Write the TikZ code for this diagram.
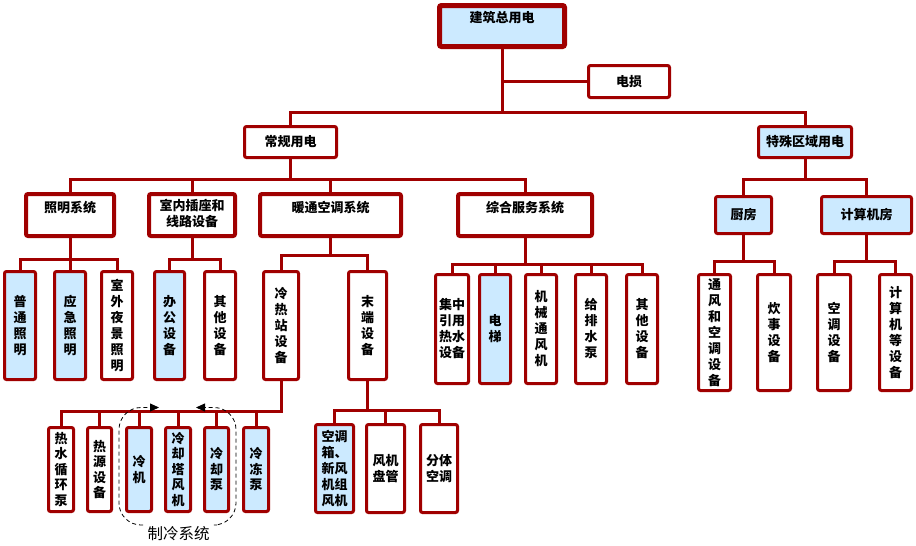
\documentclass[tikz,border=0pt]{standalone}
\usepackage{fontspec}
\newfontfamily\cjk{Noto Sans CJK SC}
\usetikzlibrary{arrows.meta}
\definecolor{dred}{HTML}{A00000}
\definecolor{lblue}{HTML}{CCEAFF}
\newcommand\toptext[4]{\parbox[c][#2pt][t]{#1pt}{\centering\rule{0pt}{#3pt}#4}}
\begin{document}
\begin{tikzpicture}[x=1pt,y=-1pt,
  sz/.style 2 args={minimum width=#1pt, minimum height=#2pt},
  box/.style={draw=dred, fill=white, line width=3pt, rounded corners=2pt, inner sep=0pt,
    font=\cjk\bfseries\fontsize{13}{16}\selectfont, align=center},
  hdr/.style={box, line width=4pt},
  leaf/.style={box},
  sleaf/.style={box, font=\cjk\bfseries\fontsize{13}{15.5}\selectfont},
  blue/.style={fill=lblue},
  conn/.style={draw=dred, line width=3pt},
  dashline/.style={draw=black, line width=0.8pt, dash pattern=on 4pt off 3pt, rounded corners=22pt},
  looptip/.style={draw=black, solid, line width=0.8pt, -{Triangle[length=9pt,width=8pt]}}
]
\fill[white] (0,0) rectangle (916,546);
\useasboundingbox (0,0) rectangle (916,546);

% top level
\node[box, blue, line width=5pt, sz={125}{41}] (root) at (502,26) {\toptext{125}{41}{17.5}{建筑总用电}};
\node[box, sz={81}{32}] (loss) at (629,81.5) {电损};
\node[box, sz={92}{31}] (normal) at (290.5,142) {常规用电};
\node[box, blue, sz={93}{31}] (special) at (805,142) {特殊区域用电};

% second level
\node[hdr, sz={88}{42}] (light) at (70,215) {\toptext{88}{42}{18}{照明系统}};
\node[hdr, sz={86}{42}] (socket) at (192,215) {\toptext{86}{42}{16}{室内插座和\\线路设备}};
\node[hdr, sz={141}{42}] (hvac) at (330.5,215) {\toptext{141}{42}{18}{暖通空调系统}};
\node[hdr, sz={134}{42}] (serv) at (525,215) {\toptext{134}{42}{18}{综合服务系统}};
\node[box, blue, sz={56}{37}] (kitchen) at (743.5,215) {厨房};
\node[box, blue, sz={90}{37}] (comproom) at (866.5,215) {计算机房};

% third level
\node[leaf, blue, sz={31}{108}] (ord) at (20,325.5) {普\\通\\照\\明};
\node[leaf, blue, sz={31}{108}] (emerg) at (70,325.5) {应\\急\\照\\明};
\node[leaf, sz={31}{108}] (outdoor) at (117,325.5) {室\\外\\夜\\景\\照\\明};
\node[leaf, blue, sz={30}{108}] (office) at (169.5,325.5) {办\\公\\设\\备};
\node[leaf, sz={31}{108}] (other1) at (220,325.5) {其\\他\\设\\备};
\node[leaf, sz={35}{108}] (plant) at (281,325.5) {冷\\热\\站\\设\\备};
\node[leaf, sz={38}{108}] (term) at (367.5,325.5) {末\\端\\设\\备};

\node[leaf, sz={33}{109}] (hw) at (452,329) {集中\\引用\\热水\\设备};
\node[leaf, blue, sz={31}{109}] (elev) at (495,329) {电\\梯};
\node[leaf, sz={31}{109}] (vent) at (541,329) {机\\械\\通\\风\\机};
\node[leaf, sz={31}{109}] (pump) at (591,329) {给\\排\\水\\泵};
\node[leaf, sz={31}{109}] (other2) at (642,329) {其\\他\\设\\备};

\node[leaf, sz={32}{116}] (kv) at (714.5,332.5) {通\\风\\和\\空\\调\\设\\备};
\node[leaf, sz={33}{116}] (cook) at (774,332.5) {炊\\事\\设\\备};
\node[leaf, sz={33}{116}] (ac) at (834,332.5) {空\\调\\设\\备};
\node[leaf, sz={32}{116}] (comp) at (895.5,332.5) {计\\算\\机\\等\\设\\备};

% fourth level
\node[sleaf, sz={25}{84}] (hwp) at (61,469.5) {热\\水\\循\\环\\泵};
\node[sleaf, sz={24}{84}] (hs) at (99.5,469.5) {热\\源\\设\\备};
\node[sleaf, blue, sz={25}{84}] (chiller) at (139,469.5) {冷\\机};
\node[sleaf, blue, sz={25}{84}] (tower) at (178,469.5) {冷\\却\\塔\\风\\机};
\node[sleaf, blue, sz={24}{84}] (cwp) at (216.5,469.5) {冷\\却\\泵};
\node[sleaf, blue, sz={25}{84}] (chwp) at (256,469.5) {冷\\冻\\泵};

\node[leaf, blue, sz={38}{88}] (ahu) at (334.5,468.5) {空调\\箱、\\新风\\机组\\风机};
\node[leaf, sz={38}{88}] (fcu) at (385.5,468.5) {风机\\盘管};
\node[leaf, sz={37}{88}] (split) at (439,468.5) {分体\\空调};

% connectors
\draw[conn] (root.south) -- ++(0,63.5) -| (normal.north);
\draw[conn] (root.south) -- ++(0,63.5) -| (special.north);
\draw[conn] (root.south |- loss.west) -- (loss.west);
\foreach \c in {light,socket,hvac,serv} \draw[conn] (normal.south) -- ++(0,20.5) -| (\c.north);
\foreach \c in {kitchen,comproom} \draw[conn] (special.south) -- ++(0,20.5) -| (\c.north);
\foreach \c in {ord,emerg,outdoor} \draw[conn] (light.south) -- ++(0,21) -| (\c.north);
\foreach \c in {office,other1} \draw[conn] (socket.south) -- ++(0,21) -| (\c.north);
\foreach \c in {plant,term} \draw[conn] (hvac.south) -- ++(0,17) -| (\c.north);
\foreach \c in {hw,elev,vent,pump,other2} \draw[conn] (serv.south) -- ++(0,26) -| (\c.north);
\foreach \c in {kv,cook} \draw[conn] (kitchen.south) -- ++(0,26.5) -| (\c.north);
\foreach \c in {ac,comp} \draw[conn] (comproom.south) -- ++(0,26.5) -| (\c.north);
\foreach \c in {hwp,hs,chiller,tower,cwp,chwp} \draw[conn] (plant.south) -- ++(0,30.5) -| (\c.north);
\foreach \c in {ahu,fcu,split} \draw[conn] (term.south) -- ++(0,29.5) -| (\c.north);

% refrigeration system loop
\coordinate (lb) at (143,525);
\coordinate (la) at (150,407.5);
\coordinate (lt) at (159,407.5);
\coordinate (rb) at (217,525);
\coordinate (ra) at (205,407.5);
\coordinate (rt) at (196,407.5);
\draw[dashline] (lb) -- (119,525) -- (119,407.5) -- (la);
\draw[dashline] (rb) -- (236,525) -- (236,407.5) -- (ra);
\draw[looptip] (la) -- (lt);
\draw[looptip] (ra) -- (rt);
\node[font=\cjk\fontsize{15.5}{16}\selectfont, inner sep=0pt] (coolsys) at (178.5,533.5) {制冷系统};
\end{tikzpicture}
\end{document}
